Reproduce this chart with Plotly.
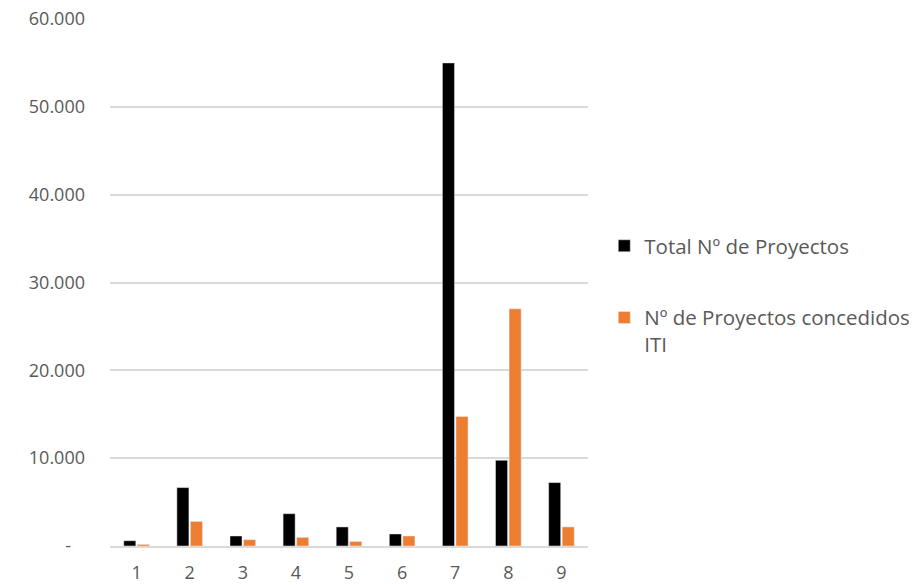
import plotly.graph_objects as go

categories = ["1", "2", "3", "4", "5", "6", "7", "8", "9"]
total_proyectos = [600, 6650, 1140, 3680, 2170, 1370, 55000, 9760, 7220]
proyectos_iti = [180, 2800, 720, 980, 520, 1140, 14750, 27000, 2170]
tick_vals = [0, 10000, 20000, 30000, 40000, 50000, 60000]
tick_text = ["-\u00a0\u00a0\u00a0", "10.000", "20.000", "30.000", "40.000", "50.000", "60.000"]

font_family = "'Open Sans', sans-serif"
gray = "#595959"

fig = go.Figure()
fig.add_trace(go.Bar(x=categories, y=total_proyectos, name="Total Nº de Proyectos",
                     marker=dict(color="#000000"), legendgroup="a"))
fig.add_trace(go.Bar(x=categories, y=proyectos_iti, name="Nº de Proyectos concedidos<br>ITI",
                     marker=dict(color="#ED7D31"), legendgroup="b"))

fig.update_layout(
    width=923, height=585,
    margin=dict(l=102, r=343, t=11, b=47, autoexpand=False),
    paper_bgcolor="white", plot_bgcolor="white",
    barmode="group", bargap=0.49, bargroupgap=0.11,
    font=dict(family=font_family, size=18, color=gray),
    showlegend=True,
    legend=dict(xref="container", yref="container", x=0.646, y=0.6274,
                xanchor="left", yanchor="top",
                font=dict(size=20.5, color=gray), tracegroupgap=42,
                itemwidth=30, traceorder="grouped", valign="top"),
    xaxis=dict(showgrid=False, showline=True, linecolor="#d9d9d9", linewidth=1.5,
               ticks="", ticklabelstandoff=10, automargin=False,
               tickfont=dict(size=18, color=gray)),
    yaxis=dict(range=[0, 60000], tickvals=tick_vals, ticktext=tick_text,
               showgrid=True, gridcolor="#d9d9d9", gridwidth=1.5, automargin=False,
               zeroline=False, showline=False, ticks="", ticklabelstandoff=24,
               ticklabeloverflow="allow",
               tickfont=dict(size=18, color=gray)),
)

fig.write_html("out.html")
